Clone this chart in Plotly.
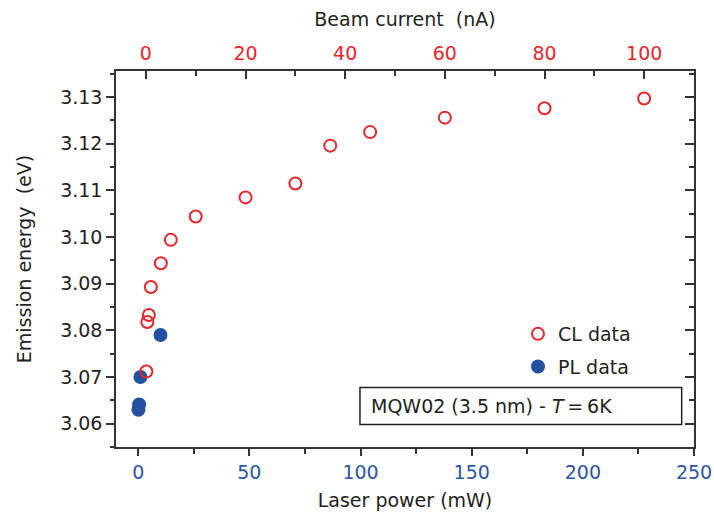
import plotly.graph_objects as go

# CL data (top axis: beam current)
beam_current_nA = [100, 80, 60, 45, 37, 30, 20, 10, 5, 3, 1, 0.6, 0.3, 0.1]
cl_energy_eV = [3.1297, 3.1276, 3.1256, 3.1225, 3.1196, 3.1115, 3.1085, 3.1044,
                3.0994, 3.0944, 3.0893, 3.0833, 3.0818, 3.0712]

# PL data (bottom axis: laser power)
laser_power_mW = [10, 1, 0.4, 0.1]
pl_energy_eV = [3.0790, 3.0700, 3.0641, 3.0630]

RED = "#e8262b"
BLUE = "#2350a0"
TICKBLUE = "#2b55a5"
DARK = "#231f20"
FONT = "DejaVu Sans, sans-serif"
FS = 19

fig = go.Figure()
fig.add_trace(go.Scatter(
    x=beam_current_nA, y=cl_energy_eV, mode="markers", name="CL data",
    xaxis="x2", yaxis="y2", legendgroup="cl",
    marker=dict(symbol="circle-open", size=12, color=RED, line=dict(width=2, color=RED)),
))
fig.add_trace(go.Scatter(
    x=laser_power_mW, y=pl_energy_eV, mode="markers", name="PL data",
    xaxis="x", yaxis="y", legendgroup="pl",
    marker=dict(symbol="circle", size=14, color=BLUE),
))

yr = [3.055, 3.1356]
axis_common = dict(showgrid=False, zeroline=False, showline=True, linecolor="#333",
                   linewidth=1.5, tickcolor="#333", tickwidth=1.5, automargin=False)

fig.update_layout(
    width=714, height=518,
    margin=dict(l=116, r=20, t=71, b=71),
    paper_bgcolor="white", plot_bgcolor="white",
    font=dict(family=FONT, size=FS, color=DARK),
    showlegend=True,
    legend=dict(x=0.6955, y=0.351, xanchor="left", yanchor="top",
                bgcolor="rgba(0,0,0,0)", font=dict(size=FS, color=DARK),
                itemwidth=30, tracegroupgap=5, traceorder="grouped"),
    xaxis=dict(**axis_common, range=[-10, 250], ticks="outside", ticklen=7,
               dtick=50, tick0=0, tickfont=dict(color=TICKBLUE, size=FS),
               minor=dict(ticks="outside", dtick=25, tick0=0, ticklen=5,
                          tickcolor="#333", tickwidth=1.5),
               title=dict(text="Laser power (mW)", font=dict(size=FS, color=DARK), standoff=12)),
    xaxis2=dict(**axis_common, range=[-6, 110], overlaying="x", side="top",
                ticks="inside", ticklen=8, dtick=20, tick0=0, ticklabelstandoff=2,
                tickfont=dict(color=RED, size=FS),
                minor=dict(ticks="inside", dtick=10, tick0=0, ticklen=5,
                           tickcolor="#333", tickwidth=1.5),
                title=dict(text="Beam current  (nA)", font=dict(size=FS, color=DARK), standoff=10)),
    yaxis=dict(**axis_common, range=yr, ticks="outside", ticklen=8, dtick=0.01,
               tick0=3.06, tickformat=".2f", tickfont=dict(size=FS, color=DARK),
               minor=dict(ticks="outside", dtick=0.005, tick0=3.055, ticklen=4,
                          tickcolor="#333", tickwidth=1.5),
               title=dict(text="Emission energy  (eV)", font=dict(size=FS, color=DARK), standoff=23)),
    yaxis2=dict(**axis_common, range=yr, overlaying="y", side="right",
                ticks="inside", ticklen=9, dtick=0.01, tick0=3.06,
                showticklabels=False,
                minor=dict(ticks="inside", dtick=0.005, tick0=3.055, ticklen=5,
                           tickcolor="#333", tickwidth=1.5)),
)

fig.add_shape(type="rect", xref="paper", yref="paper",
              x0=0.4221, x1=0.9787, y0=0.0596, y1=0.1581,
              line=dict(color=DARK, width=1.5), fillcolor="white", layer="above")
fig.add_annotation(xref="paper", yref="paper", x=0.438, y=0.1089,
                   xanchor="left", yanchor="middle", showarrow=False,
                   text="MQW02 (3.5 nm) - <i>T</i>\u2009=\u20096K",
                   font=dict(size=FS, color=DARK, family=FONT))

fig.write_html("out.html",
               config={"displayModeBar": False},
               post_script="document.body.style.margin='0';document.body.style.overflow='hidden';")
